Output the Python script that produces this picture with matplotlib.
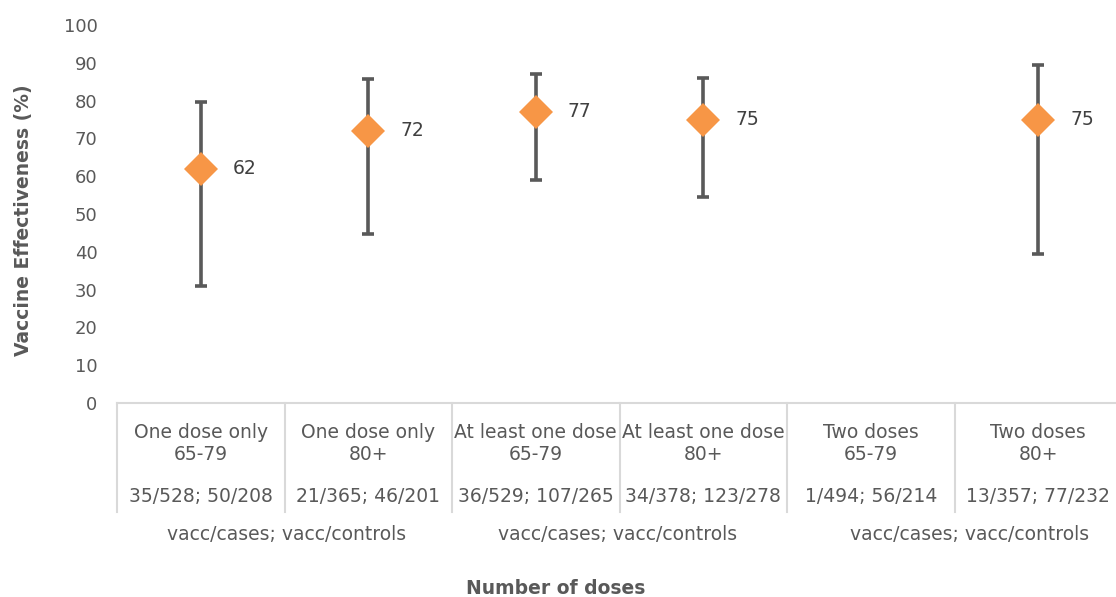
import numpy as np
import matplotlib.pyplot as plt

# data
groups = ["One dose only", "One dose only", "At least one dose",
          "At least one dose", "Two doses", "Two doses"]
ages = ["65-79", "80+", "65-79", "80+", "65-79", "80+"]
counts = ["35/528; 50/208", "21/365; 46/201", "36/529; 107/265",
          "34/378; 123/278", "1/494; 56/214", "13/357; 77/232"]
ve = [62, 72, 77, 75, np.nan, 75]
ci_low = [31, 44.8, 59, 54.4, np.nan, 39.3]
ci_high = [79.5, 85.8, 87, 86, np.nan, 89.4]
group_note = "vacc/cases; vacc/controls"

W, H = 1116, 597
fs = 13.5
fig = plt.figure(figsize=(W / 100, H / 100), dpi=100)
ax = fig.add_axes([117 / W, (H - 403) / H, (W - 117) / W, 378 / H])

x = np.arange(len(ve))
ve_a = np.array(ve)
err = [ve_a - np.array(ci_low), np.array(ci_high) - ve_a]
ax.errorbar(x, ve, yerr=err, fmt="none", ecolor="#595959", elinewidth=2.6,
            capsize=4.5, capthick=2.6, zorder=2)
ax.plot(x, ve, linestyle="none", marker="D", markersize=17.5,
        color="#F79646", markeredgewidth=0, zorder=3)
for xi, v in zip(x, ve):
    if not np.isnan(v):
        ax.annotate(f"{v:.0f}", (xi, v), xytext=(23, 0), textcoords="offset points",
                    va="center", ha="left", fontsize=fs, color="#404040")

ax.set_xlim(-0.5, -0.5 + (W - 117) / 167.5)
ax.set_ylim(0, 100)
ax.set_yticks(range(0, 101, 10))
ax.tick_params(axis="y", length=0, pad=14, labelsize=13, labelcolor="#595959")
ax.set_xticks([])
for s in ["left", "right", "top"]:
    ax.spines[s].set_visible(False)
ax.spines["bottom"].set_color("#d9d9d9")
ax.spines["bottom"].set_linewidth(1.5)

# category table under the axis
tr = ax.get_xaxis_transform()
px = 1 / 378
for b in np.arange(-0.5, len(ve), 1.0):
    ax.plot([b, b], [0, -109 * px], transform=tr, color="#d9d9d9", lw=1.5,
            clip_on=False)
for xi, g, a, c in zip(x, groups, ages, counts):
    ax.text(xi, -29 * px, g, transform=tr, ha="center", va="center",
            fontsize=fs, color="#595959")
    ax.text(xi, -52 * px, a, transform=tr, ha="center", va="center",
            fontsize=fs, color="#595959")
    ax.text(xi, -94 * px, c, transform=tr, ha="center", va="center",
            fontsize=fs, color="#595959")
for gx in [0.51, 2.49, 4.59]:
    ax.text(gx, -132 * px, group_note, transform=tr, ha="center", va="center",
            fontsize=fs, color="#595959")

fig.text(556 / W, 1 - 588 / H, "Number of doses", ha="center", va="center",
         fontsize=fs, fontweight="bold", color="#595959")
fig.text(24 / W, 1 - 220 / H, "Vaccine Effectiveness (%)", ha="center",
         va="center", rotation=90, fontsize=fs, fontweight="bold", color="#595959")

fig.savefig("out.png", dpi=100)
